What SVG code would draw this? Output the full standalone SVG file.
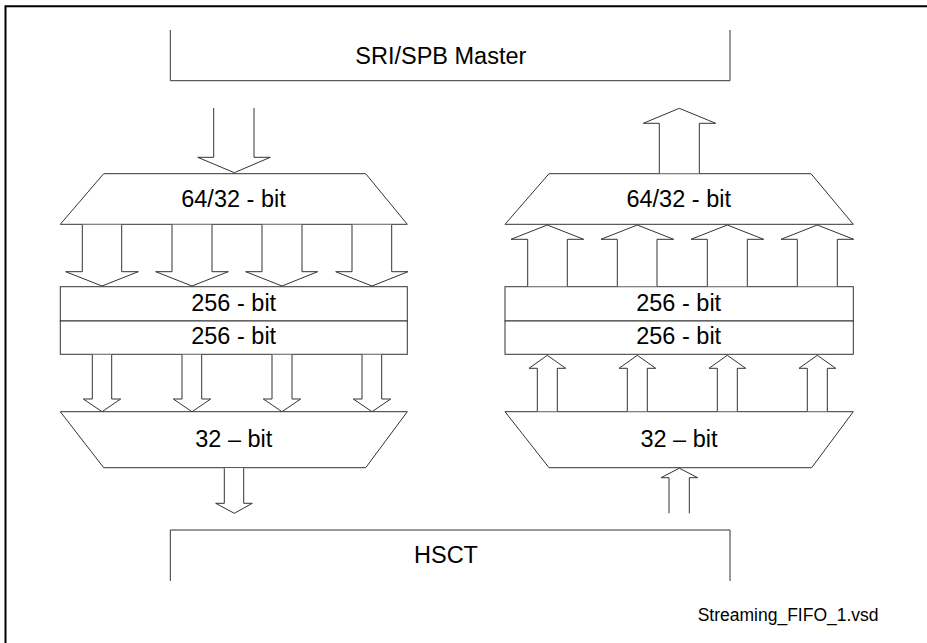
<svg xmlns="http://www.w3.org/2000/svg" width="927" height="643" viewBox="0 0 927 643">
<style>
.s{fill:#fff;stroke:#333;stroke-width:1}
.a{fill:#fff;stroke:#333;stroke-width:1}
.t{font-family:"Liberation Sans",Arial,sans-serif;font-size:23.5px;fill:#000;text-anchor:middle}
.f{font-family:"Liberation Sans",Arial,sans-serif;font-size:17.5px;fill:#000}
</style>
<rect width="927" height="643" fill="#fff"/>
<path d="M5.5,643 V6.3 H927" fill="none" stroke="#000" stroke-width="2"/>
<g id="sri-master">
<polyline class="s" points="170.3,30 170.3,80.7 730,80.7 730,30" fill="none"/>
<text class="t" x="440.8" y="64">SRI/SPB Master</text>
</g>
<g id="hsct">
<polyline class="s" points="170.3,581 170.3,530 730,530 730,581" fill="none"/>
<text class="t" x="446" y="562.7">HSCT</text>
</g>
<g id="left-6432">
<polygon class="s" points="103.7,173.7 365.7,173.7 407.3,224.3 60.3,224.3"/>
<text class="t" x="233.5" y="206.7">64/32 - bit</text>
</g>
<g id="left-256a">
<rect class="s" x="60.3" y="286.7" width="347" height="34.3"/>
<text class="t" x="233.7" y="311">256 - bit</text>
</g>
<g id="left-256b">
<rect class="s" x="60.3" y="321" width="347" height="33.3"/>
<text class="t" x="233.7" y="344.3">256 - bit</text>
</g>
<g id="left-32">
<polygon class="s" points="60.3,411.7 407.3,411.7 365.7,467.7 103.7,467.7"/>
<text class="t" x="233.8" y="446.7">32 – bit</text>
</g>
<g id="right-6432">
<polygon class="s" points="549,173.7 811,173.7 853.3,224.3 505,224.3"/>
<text class="t" x="678.7" y="206.7">64/32 - bit</text>
</g>
<g id="right-256a">
<rect class="s" x="505" y="286.7" width="348.3" height="34.3"/>
<text class="t" x="678.7" y="311">256 - bit</text>
</g>
<g id="right-256b">
<rect class="s" x="505" y="321" width="348.3" height="33.3"/>
<text class="t" x="678.7" y="344.3">256 - bit</text>
</g>
<g id="right-32">
<polygon class="s" points="505,411.7 853.3,411.7 811.7,467.7 549,467.7"/>
<text class="t" x="679" y="446.7">32 – bit</text>
</g>
<g id="connectors">
<polyline class="a" points="213.7,108 213.7,157.3 197.7,157.3 234.3,172.7 270.3,157.3 254,157.3 254,108"/>
<polyline class="a" points="82.3,224.8 82.3,271.7 65.7,271.7 102,286 138.3,271.7 121.7,271.7 121.7,224.8"/>
<polyline class="a" points="172,224.8 172,271.7 155.7,271.7 192,286 228.3,271.7 212,271.7 212,224.8"/>
<polyline class="a" points="262,224.8 262,271.7 245.7,271.7 282,286 317.7,271.7 302,271.7 302,224.8"/>
<polyline class="a" points="352,224.8 352,271.7 335.7,271.7 372,286 408,271.7 391.7,271.7 391.7,224.8"/>
<polyline class="a" points="92.3,354.8 92.3,399 83.3,399 102,411.7 120.7,399 111.7,399 111.7,354.8"/>
<polyline class="a" points="182,354.8 182,399 173.3,399 192,411.7 210.7,399 201.7,399 201.7,354.8"/>
<polyline class="a" points="272,354.8 272,399 263.3,399 282,411.7 300.7,399 292,399 292,354.8"/>
<polyline class="a" points="362,354.8 362,399 353.3,399 372,411.7 390.7,399 381.7,399 381.7,354.8"/>
<polyline class="a" points="224.3,468.2 224.3,503.3 215.7,503.3 234.3,513.3 252.3,503.3 243.7,503.3 243.7,468.2"/>
<polyline class="a" points="659.3,173.2 659.3,123.3 643.3,123.3 679.3,108.3 715.7,123.3 699.3,123.3 699.3,173.2"/>
<polyline class="a" points="527.7,286.2 527.7,239.3 511,239.3 547.3,225 583.7,239.3 567.3,239.3 567.3,286.2"/>
<polyline class="a" points="617.3,286.2 617.3,239.3 601,239.3 637.3,225 673.7,239.3 657,239.3 657,286.2"/>
<polyline class="a" points="707.3,286.2 707.3,239.3 691,239.3 727.3,225 763.7,239.3 747.3,239.3 747.3,286.2"/>
<polyline class="a" points="797.3,286.2 797.3,239.3 781,239.3 817.3,225 853.7,239.3 837.3,239.3 837.3,286.2"/>
<polyline class="a" points="537.3,411.2 537.3,368.3 529,368.3 547.3,355.3 565.7,368.3 557.3,368.3 557.3,411.2"/>
<polyline class="a" points="627.3,411.2 627.3,368.3 619,368.3 637.3,355.3 655.7,368.3 647.3,368.3 647.3,411.2"/>
<polyline class="a" points="717.3,411.2 717.3,368.3 709,368.3 727.3,355.3 745.7,368.3 737.3,368.3 737.3,411.2"/>
<polyline class="a" points="807.3,411.2 807.3,368.3 799,368.3 817.3,355.3 835.7,368.3 827.3,368.3 827.3,411.2"/>
<polyline class="a" points="669,513.3 669,477.7 661,477.7 679.3,468.2 697.7,477.7 689.3,477.7 689.3,513.3"/>
</g>
<text class="f" x="697.7" y="621">Streaming_FIFO_1.vsd</text>
</svg>
